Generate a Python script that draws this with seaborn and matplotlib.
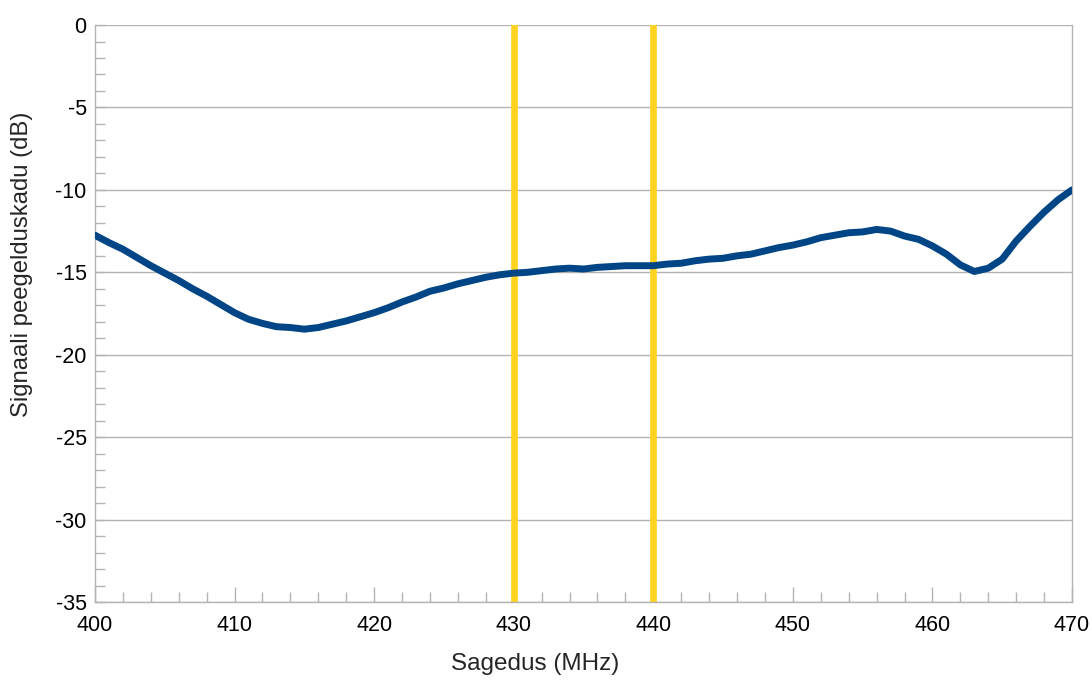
import numpy as np
import pandas as pd
import seaborn as sns
import matplotlib.pyplot as plt
from matplotlib.ticker import MultipleLocator

# andmed (loetud graafikult)
sagedus = [400, 401, 402, 403, 404, 405, 406, 407, 408, 409, 410, 411, 412, 413, 414, 415,
           416, 417, 418, 419, 420, 421, 422, 423, 424, 425, 426, 427, 428, 429, 430, 431,
           432, 433, 434, 435, 436, 437, 438, 439, 440, 441, 442, 443, 444, 445, 446, 447,
           448, 449, 450, 451, 452, 453, 454, 455, 456, 457, 458, 459, 460, 461, 462, 463,
           464, 465, 466, 467, 468, 469, 470]
peegeldus = [-12.75, -13.2, -13.6, -14.1, -14.6, -15.05, -15.5, -16.0, -16.45, -16.95, -17.45,
             -17.85, -18.1, -18.3, -18.35, -18.45, -18.35, -18.15, -17.95, -17.7, -17.45,
             -17.15, -16.8, -16.5, -16.15, -15.95, -15.7, -15.5, -15.3, -15.15, -15.05, -15.0,
             -14.9, -14.8, -14.75, -14.8, -14.7, -14.65, -14.6, -14.6, -14.6, -14.5, -14.45,
             -14.3, -14.2, -14.15, -14.0, -13.9, -13.7, -13.5, -13.35, -13.15, -12.9, -12.75,
             -12.6, -12.55, -12.4, -12.5, -12.8, -13.0, -13.4, -13.9, -14.55, -14.95, -14.75,
             -14.2, -13.1, -12.2, -11.35, -10.6, -10.0]
piirid = [430, 440]

df = pd.DataFrame({'sagedus': sagedus, 'peegeldus': peegeldus})

sns.set_style('white')
plt.rcParams['font.family'] = ['Liberation Sans', 'DejaVu Sans']
plt.rcParams['axes.unicode_minus'] = False

fig = plt.figure(figsize=(10.92, 6.8), dpi=100)
ax = fig.add_axes([0.087, 0.1147, 0.8947, 0.8485])

grey = '#b3b3b3'
ax.yaxis.grid(True, color=grey, linewidth=1)
ax.set_axisbelow(True)

for p in piirid:
    ax.axvline(p, color='#ffd320', linewidth=4.8, zorder=2)

sns.lineplot(data=df, x='sagedus', y='peegeldus', ax=ax, color='#004586',
             linewidth=5, zorder=3)

ax.set_xlim(400, 470)
ax.set_ylim(-35, 0)
ax.xaxis.set_major_locator(MultipleLocator(10))
ax.xaxis.set_minor_locator(MultipleLocator(2))
ax.yaxis.set_major_locator(MultipleLocator(5))
ax.yaxis.set_minor_locator(MultipleLocator(1))

ax.tick_params(axis='both', which='major', direction='in', color=grey, labelsize=15.5,
               labelcolor='black')
ax.tick_params(axis='x', which='major', length=11, width=1, pad=9)
ax.tick_params(axis='y', which='major', length=7, width=1, pad=6)
ax.tick_params(axis='both', which='minor', direction='in', color=grey, length=7, width=1)
ax.tick_params(axis='x', which='both', bottom=True)
ax.tick_params(axis='y', which='both', left=True)

for s in ['left', 'bottom', 'right']:
    ax.spines[s].set_color(grey)
    ax.spines[s].set_linewidth(1)
ax.spines['top'].set_visible(False)

ax.set_xlabel('Sagedus (MHz)', fontsize=17.5)
ax.set_ylabel('Signaali peegelduskadu (dB)', fontsize=17.2)
ax.xaxis.set_label_coords(0.450, -0.088)
ax.yaxis.set_label_coords(-0.0635, 0.586)

plt.savefig('out.png', dpi=100)
